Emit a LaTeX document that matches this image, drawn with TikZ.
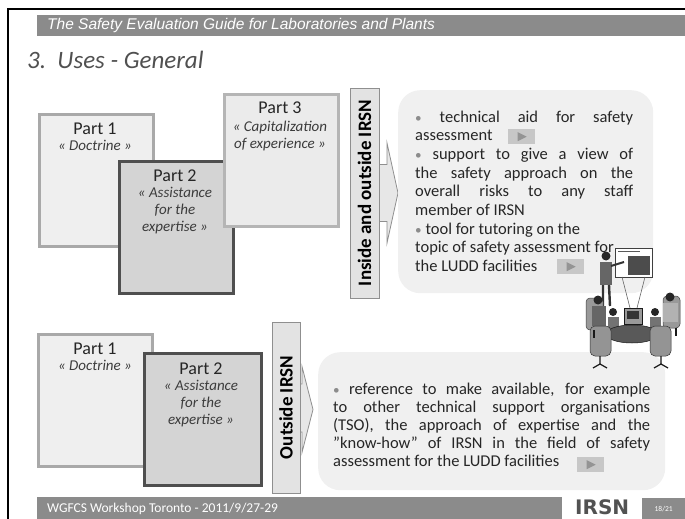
\documentclass[tikz,border=0pt]{standalone}
\usepackage{fontspec}
\setmainfont{Carlito}
\newfontfamily\headfont{Liberation Sans}
\newfontfamily\logofont{DejaVu Sans}
\usetikzlibrary{calc}

\definecolor{barfill}{HTML}{8B8B8B}
\definecolor{titlegray}{HTML}{505050}
\definecolor{lightfill}{HTML}{EFEFEF}
\definecolor{lightedge}{HTML}{A9A9A9}
\definecolor{darkfill}{HTML}{D4D4D4}
\definecolor{darkedge}{HTML}{4F4F4F}
\definecolor{thirdfill}{HTML}{EBEBEB}
\definecolor{thirdedge}{HTML}{B5B5B5}
\definecolor{tagfill}{HTML}{E3E3E3}
\definecolor{tagedge}{HTML}{8F8F8F}
\definecolor{panelfill}{HTML}{F0F0F0}
\definecolor{bodyink}{HTML}{262626}

\newcommand\bul{\textcolor{black!45}{\scalebox{0.8}{\textbullet}}\ }
\newcommand\sublines[1]{\begin{tabular}[t]{@{}c@{}}#1\end{tabular}}

\tikzset{
  partbox/.style={line width=3pt, minimum width=114, minimum height=132,
    anchor=north west, inner sep=0},
  partone/.style={partbox, draw=lightedge, fill=lightfill},
  parttwo/.style={partbox, draw=darkedge, fill=darkfill},
  partthree/.style={partbox, draw=thirdedge, fill=thirdfill},
  parttitle/.style={anchor=base, inner sep=0, text=bodyink,
    font=\fontsize{18}{20}\selectfont},
  partsub/.style={anchor=base, inner sep=0, text=bodyink!90,
    font=\itshape\fontsize{15}{17}\selectfont},
  tagbox/.style={draw=tagedge, fill=tagfill, line width=0.8pt, inner sep=0},
  tagtext/.style={rotate=90, inner sep=0, font=\bfseries\fontsize{19}{22}\selectfont},
  blockarrow/.style={draw=tagedge, fill=tagfill!85!white, line width=0.8pt},
  panel/.style={fill=panelfill, rounded corners=22pt, inner sep=0, anchor=north west},
  bodytext/.style={anchor=base west, inner sep=0, text=bodyink},
  playbtn/.style={fill=black!22, minimum width=27, minimum height=15, inner sep=0, anchor=north west},
  bar/.style={fill=barfill, inner sep=0, anchor=north west},
}

\begin{document}
\begin{tikzpicture}[x=1pt,y=-1pt]
\useasboundingbox (0,0) rectangle (685,519);

% slide frame
\draw[line width=1.5pt] (8,519) -- (8,9) -- (685,9);

% header
\node[bar, minimum width=648, minimum height=21] (hdr) at (37,15) {};
\node[anchor=west, inner sep=0, text=white, font=\headfont\itshape\fontsize{15.5}{18}\selectfont]
  (hdrtext) at (47,25.5) {The Safety Evaluation Guide for Laboratories and Plants};
\node[anchor=base west, inner sep=0, text=titlegray, font=\itshape\fontsize{25}{28}\selectfont]
  (title) at (27,68) {3.\ \ Uses - General};

% ---------- upper group ----------
\node[partone] (ua) at (38,113) {};
\node[parttitle] (uatitle) at (95,134) {Part 1};
\node[partsub] (uasub) at (95,150) {« Doctrine\ »};

\node[parttwo] (ub) at (118,160) {};
\node[parttitle] (ubtitle) at (175,181) {Part 2};
\node[partsub] (ubsub) at (175,197) {\sublines{« Assistance\\ for the\\ expertise\ »}};

\node[partthree] (uc) at (223,93) {};
\node[parttitle] (uctitle) at (280,113) {Part 3};
\node[partsub] (ucsub) at (280,131) {\sublines{« Capitalization\\ of experience\ »}};

\node[tagbox, minimum width=29, minimum height=210] (utag) at (364.5,193) {};
\begin{scope}[shift={(utag.center)}]
  \draw[blockarrow] (0,-28.5) -- (22.5,-28.5) -- (22.5,-50) -- (33.5,0)
    -- (22.5,50) -- (22.5,28.5) -- (0,28.5) -- cycle;
\end{scope}
\node[tagbox, minimum width=29, minimum height=210] (utagfront) at (utag.center) {};
\node[tagtext] (utagtext) at (utag.center) {Inside and outside IRSN};

\node[panel, minimum width=255, minimum height=203] (upanel) at (398,90) {};
\node[bodytext] (ulist) at (415,122) {\parbox[t]{218pt}{\fontsize{16.5}{18.7}\selectfont\tolerance=10000
\bul technical aid for safety\linebreak
assessment\\
\bul support to give a view of\linebreak
the safety approach on the\linebreak
overall risks to any staff\linebreak
member of IRSN\\
\bul tool for tutoring on the\\
topic of safety assessment for\\
the LUDD facilities}};
\node[playbtn] (uplay1) at (508,129) {};
\fill[black!42] ($(uplay1.center)+(-4,-4.5)$) -- ($(uplay1.center)+(5,0)$) -- ($(uplay1.center)+(-4,4.5)$) -- cycle;
\node[playbtn] (uplay2) at (557,259) {};
\fill[black!42] ($(uplay2.center)+(-4,-4.5)$) -- ($(uplay2.center)+(5,0)$) -- ($(uplay2.center)+(-4,4.5)$) -- cycle;

% ---------- lower group ----------
\node[partone] (la) at (37,333) {};
\node[parttitle] (latitle) at (95,354) {Part 1};
\node[partsub] (lasub) at (95,370) {« Doctrine\ »};

\node[parttwo, minimum width=117] (lb) at (143,352) {};
\node[parttitle] (lbtitle) at (201,374) {Part 2};
\node[partsub] (lbsub) at (201,390) {\sublines{« Assistance\\ for the\\ expertise\ »}};

\node[tagbox, minimum width=28, minimum height=171] (ltag) at (286,407.5) {};
\begin{scope}[shift={(ltag.center)}]
  \draw[blockarrow] (0,-23.5) -- (16,-23.5) -- (16,-41) -- (27,2)
    -- (16,45) -- (16,24.5) -- (0,24.5) -- cycle;
\end{scope}
\node[tagbox, minimum width=28, minimum height=171] (ltagfront) at (ltag.center) {};
\node[tagtext] (ltagtext) at (ltag.center) {Outside IRSN};

\node[panel, minimum width=347, minimum height=138] (lpanel) at (318,352) {};
\node[bodytext] (llist) at (333,394) {\parbox[t]{317pt}{\fontsize{16.5}{18}\selectfont\tolerance=10000
\bul reference to make available, for example\linebreak
to other technical support organisations\linebreak
(TSO), the approach of expertise and the\linebreak
"know-how" of IRSN in the field of safety\linebreak
assessment for the LUDD facilities}};
\node[playbtn] (lplay) at (577,457) {};
\fill[black!42] ($(lplay.center)+(-4,-4.5)$) -- ($(lplay.center)+(5,0)$) -- ($(lplay.center)+(-4,4.5)$) -- cycle;

% ---------- meeting clip-art ----------
% projection screen
\draw[black!75, line width=0.8pt, fill=white] (615,248) rectangle (652,277);
\fill[black!70] (628,256) rectangle (650,275);
\draw[black!65, line width=1pt] (618,251.5) -- (640,251.5);
\draw[black!60, line width=0.6pt] (622,277) -- (630,308) (645,277) -- (637,308);
% presenter
\fill[black!85] (606,256) circle (4.5);
\fill[black!60] (600,262) rectangle (612,285);
\draw[black!80, line width=2pt] (611,266) -- (624,262);
\draw[black!80, line width=2.4pt] (603,285) -- (603,306) (609,285) -- (610,306);
% chairs (back row)
\fill[black!40, draw=black!75, line width=0.5pt, rounded corners=4pt] (586,298) rectangle (603,330);
\fill[black!40, draw=black!75, line width=0.5pt, rounded corners=4pt] (663,296) rectangle (680,328);
% seated people (back)
\fill[black!85] (598,300) circle (4.5);
\fill[black!60] (592,306) rectangle (606,326);
\fill[black!85] (670,297) circle (4.5);
\fill[black!30] (663,303) rectangle (678,322);
\fill[black!85] (613,312) circle (4);
\fill[black!55] (608,317) rectangle (619,332);
\fill[black!85] (655,312) circle (4);
\fill[black!55] (650,317) rectangle (661,332);
% table and monitor
\fill[black!65, draw=black!90, line width=0.5pt] (632,334) ellipse (26 and 9);
\fill[black!40, draw=black!90, line width=0.5pt] (624,308) rectangle (642,324);
\fill[black!80] (627,311) rectangle (639,319);
% chairs (front row)
\fill[black!42, draw=black!80, line width=0.5pt, rounded corners=5pt] (590,326) rectangle (611,356);
\fill[black!42, draw=black!80, line width=0.5pt, rounded corners=5pt] (650,326) rectangle (671,356);
\draw[black!90, line width=1.2pt] (600,356) -- (600,364) (593,368) -- (600,364) -- (607,368)
  (661,356) -- (661,364) (654,368) -- (661,364) -- (668,368);
\draw[black!90, line width=1.2pt] (594,330) -- (594,338) (676,328) -- (676,336);

% footer
\node[bar, minimum width=525, minimum height=22] (ftr) at (37,497) {};
\node[anchor=west, inner sep=0, text=white, font=\fontsize{13.5}{16}\selectfont]
  (ftrtext) at (47,508.5) {WGFCS Workshop Toronto - 2011/9/27-29};
\node[anchor=west, inner sep=0, text=black!68, font=\logofont\bfseries\fontsize{20}{22}\selectfont]
  (logo) at (575,507.5) {IRSN};
\node[bar, minimum width=43, minimum height=21] (pagebox) at (642,498) {};
\node[inner sep=0, text=white, font=\fontsize{7.5}{8}\selectfont] (pagenum) at (pagebox.center) {18/21};
\end{tikzpicture}
\end{document}
